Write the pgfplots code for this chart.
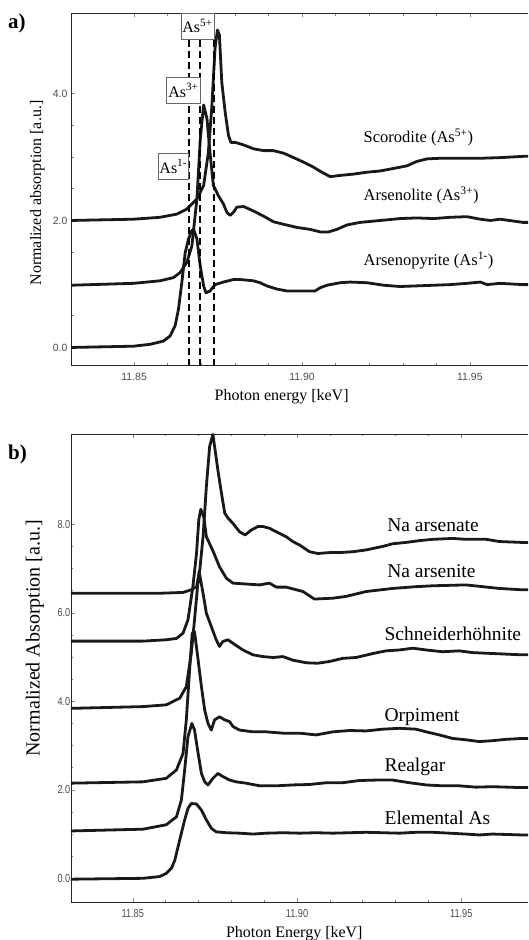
\documentclass[border=0pt]{standalone}
\usepackage{fontspec}
\setmainfont{Liberation Serif}
\newfontfamily\ticksans{Liberation Sans}
\newfontfamily\ticknarrow[FakeStretch=0.8]{Liberation Sans}
\usepackage{pgfplots}
\pgfplotsset{compat=1.18}
\begin{document}
\begin{tikzpicture}
\useasboundingbox (0pt,0pt) rectangle (528pt,940pt);
\pgfplotsset{
 curve/.style={black!90, line width=2.8pt, mark=none, line join=round},
 dline/.style={black, line width=1.8pt, mark=none, dash pattern=on 7pt off 4pt},
 common/.style={
  scale only axis,
  xmin=11.8312,
  axis x line*=box, axis y line*=left,
  axis line style={line width=0.9pt, black!85},
  tick align=inside,
  major tick length=4pt, minor tick length=2.5pt,
  tick style={black!50, line width=0.5pt},
  xtick={11.85,11.90,11.95},
  xticklabels={11.85,11.90,11.95},
  minor x tick num=4,
  minor y tick num=3,
  xticklabel style={anchor=center, yshift=-11pt},
  label style={font=\fontsize{16}{18}\selectfont},
 }
}
% ---------------- panel a ----------------
\begin{axis}[common, at={(71pt,574.3pt)}, anchor=south west,
  width=457pt, height=352.4pt, xmax=11.9673, ymin=-0.287, ymax=5.263,
  ytick={0,2,4}, yticklabels={0.0,2.0,4.0},
  tick label style={font=\ticksans\fontsize{10.5}{12}\selectfont, text=black!70},
  xlabel={Photon energy [keV]}, ylabel={Normalized absorption [a.u.]},
  xlabel style={at={(rel axis cs:0.461,-0.088)}, anchor=center},
  ylabel style={at={(rel axis cs:-0.074,0.49)}, anchor=center},
  ]
\addplot[curve] coordinates {(11.8311,0.00) (11.8498,0.02) (11.8548,0.05) (11.8587,0.10) (11.8607,0.18) (11.8622,0.34) (11.8632,0.60) (11.8642,1.02) (11.8652,1.49) (11.8662,1.71) (11.8672,1.84) (11.8677,1.86) (11.8687,1.71) (11.8697,1.28) (11.8707,0.97) (11.8714,0.86) (11.8726,0.89) (11.8741,0.99) (11.8766,1.03) (11.8796,1.07) (11.8816,1.07) (11.8855,1.05) (11.8875,1.02) (11.8895,0.97) (11.8925,0.92) (11.8955,0.89) (11.8994,0.89) (11.9039,0.89) (11.9054,0.94) (11.9074,0.98) (11.9114,1.02) (11.9143,1.03) (11.9193,1.02) (11.9243,0.98) (11.9292,0.96) (11.9342,0.97) (11.9392,0.98) (11.9441,0.99) (11.9491,1.01) (11.9531,1.03) (11.9551,0.99) (11.9590,1.01) (11.9658,0.99) (11.9673,0.99)};
\addplot[curve] coordinates {(11.8311,0.98) (11.8498,1.01) (11.8577,1.05) (11.8617,1.10) (11.8637,1.18) (11.8657,1.34) (11.8672,1.60) (11.8687,2.34) (11.8697,3.28) (11.8707,3.82) (11.8717,3.60) (11.8726,3.07) (11.8736,2.55) (11.8751,2.39) (11.8766,2.26) (11.8776,2.13) (11.8786,2.08) (11.8796,2.13) (11.8806,2.21) (11.8826,2.22) (11.8855,2.15) (11.8885,2.07) (11.8915,1.98) (11.8945,1.94) (11.8985,1.89) (11.9024,1.86) (11.9054,1.82) (11.9079,1.82) (11.9104,1.86) (11.9134,1.93) (11.9173,1.97) (11.9213,1.99) (11.9253,2.01) (11.9292,2.03) (11.9342,2.04) (11.9392,2.03) (11.9441,2.05) (11.9491,2.06) (11.9531,2.02) (11.9561,2.00) (11.9590,2.02) (11.9658,1.97) (11.9673,1.97)};
\addplot[curve] coordinates {(11.8311,2.00) (11.8498,2.02) (11.8577,2.05) (11.8627,2.10) (11.8657,2.18) (11.8687,2.34) (11.8707,2.55) (11.8721,3.07) (11.8731,3.76) (11.8741,4.71) (11.8748,5.00) (11.8754,4.92) (11.8761,4.18) (11.8771,3.71) (11.8781,3.34) (11.8788,3.23) (11.8801,3.23) (11.8826,3.19) (11.8855,3.13) (11.8885,3.10) (11.8915,3.10) (11.8945,3.06) (11.8975,2.99) (11.9004,2.92) (11.9034,2.84) (11.9059,2.76) (11.9084,2.69) (11.9114,2.71) (11.9153,2.73) (11.9193,2.76) (11.9233,2.78) (11.9273,2.82) (11.9312,2.86) (11.9342,2.93) (11.9372,2.97) (11.9412,2.98) (11.9471,2.98) (11.9531,2.98) (11.9590,2.99) (11.9658,3.01) (11.9673,3.01)};
\addplot[dline] coordinates {(11.8663,-0.287) (11.8663,5.263)};
\addplot[dline] coordinates {(11.8697,-0.287) (11.8697,5.263)};
\addplot[dline] coordinates {(11.8739,-0.287) (11.8739,5.263)};
\node[draw=black!60, fill=white, line width=0.6pt, anchor=east, inner sep=1.5pt, minimum height=26pt, font=\fontsize{16}{18}\selectfont] at (axis cs:11.8663,2.85) {As\textsuperscript{1-}};
\node[draw=black!60, fill=white, line width=0.6pt, anchor=east, inner sep=1.5pt, minimum height=26pt, font=\fontsize{16}{18}\selectfont] at (axis cs:11.8697,4.05) {As\textsuperscript{3+}};
\node[draw=black!60, fill=white, line width=0.6pt, anchor=east, inner sep=1.5pt, minimum height=26pt, font=\fontsize{16}{18}\selectfont] at (axis cs:11.8739,5.06) {As\textsuperscript{5+}};
\node[anchor=west, inner sep=0pt, font=\fontsize{16.5}{18}\selectfont] at (axis cs:11.9183,3.31) {Scorodite (As\textsuperscript{5+})};
\node[anchor=west, inner sep=0pt, font=\fontsize{16.5}{18}\selectfont] at (axis cs:11.9183,2.39) {Arsenolite (As\textsuperscript{3+})};
\node[anchor=west, inner sep=0pt, font=\fontsize{16.5}{18}\selectfont] at (axis cs:11.9183,1.37) {Arsenopyrite (As\textsuperscript{1-})};
\end{axis}
\node[anchor=north west, inner sep=0pt, font=\bfseries\fontsize{21}{24}\selectfont] at (8pt,926pt) {a)};
% ---------------- panel b ----------------
\begin{axis}[common, at={(71pt,37.7pt)}, anchor=south west,
  width=457pt, height=468.3pt, xmax=11.9703, ymin=-0.542, ymax=10.04,
  ytick={0,2,4,6,8}, yticklabels={0.0,2.0,4.0,6.0,8.0},
  tick label style={font=\ticknarrow\fontsize{11.5}{13}\selectfont, text=black!70},
  yticklabel style={inner sep=0.5pt},
  xlabel={Photon Energy [keV]}, ylabel={Normalized Absorption [a.u.]},
  xlabel style={at={(rel axis cs:0.4886,-0.0662)}, anchor=center},
  ylabel style={at={(rel axis cs:-0.079,0.564)}, anchor=center, font=\fontsize{20}{22}\selectfont},
  ]
\addplot[curve] coordinates {(11.8311,6.44) (11.8577,6.44) (11.8653,6.46) (11.8678,6.52) (11.8694,6.59) (11.8704,6.97) (11.8714,7.72) (11.8724,8.85) (11.8734,9.76) (11.8744,10.03) (11.8752,9.60) (11.8759,9.23) (11.8770,8.70) (11.8780,8.25) (11.8790,8.14) (11.8805,8.02) (11.8825,7.83) (11.8842,7.76) (11.8861,7.87) (11.8881,7.95) (11.8896,7.95) (11.8916,7.91) (11.8937,7.83) (11.8967,7.72) (11.8987,7.61) (11.9008,7.53) (11.9038,7.38) (11.9063,7.34) (11.9099,7.36) (11.9129,7.36) (11.9170,7.38) (11.9210,7.42) (11.9261,7.50) (11.9291,7.56) (11.9332,7.59) (11.9372,7.63) (11.9413,7.66) (11.9474,7.68) (11.9514,7.66) (11.9575,7.66) (11.9616,7.61) (11.9684,7.59) (11.9703,7.59)};
\addplot[curve] coordinates {(11.8311,5.36) (11.8531,5.36) (11.8602,5.39) (11.8633,5.42) (11.8653,5.54) (11.8668,5.84) (11.8683,6.59) (11.8694,7.34) (11.8701,8.10) (11.8707,8.34) (11.8716,8.17) (11.8724,7.72) (11.8744,7.40) (11.8764,7.04) (11.8785,6.78) (11.8805,6.67) (11.8845,6.65) (11.8886,6.63) (11.8916,6.67) (11.8937,6.58) (11.8967,6.58) (11.9018,6.48) (11.9053,6.31) (11.9109,6.33) (11.9149,6.37) (11.9210,6.48) (11.9291,6.55) (11.9362,6.59) (11.9413,6.61) (11.9514,6.63) (11.9565,6.59) (11.9616,6.55) (11.9684,6.52) (11.9703,6.52)};
\addplot[curve] coordinates {(11.8311,3.84) (11.8531,3.88) (11.8602,3.92) (11.8643,4.07) (11.8663,4.33) (11.8678,5.08) (11.8688,5.84) (11.8699,6.74) (11.8702,6.93) (11.8714,6.44) (11.8724,5.99) (11.8739,5.69) (11.8754,5.39) (11.8764,5.24) (11.8774,5.35) (11.8790,5.39) (11.8805,5.31) (11.8835,5.16) (11.8866,5.05) (11.8896,5.01) (11.8927,4.99) (11.8957,5.01) (11.8987,4.93) (11.9028,4.87) (11.9063,4.86) (11.9099,4.90) (11.9139,4.97) (11.9180,4.99) (11.9231,5.08) (11.9271,5.14) (11.9312,5.16) (11.9352,5.20) (11.9393,5.16) (11.9443,5.12) (11.9494,5.14) (11.9534,5.10) (11.9595,5.08) (11.9684,5.05) (11.9703,5.05)};
\addplot[curve] coordinates {(11.8311,2.15) (11.8531,2.18) (11.8602,2.26) (11.8633,2.45) (11.8653,2.82) (11.8663,3.58) (11.8673,4.71) (11.8681,5.54) (11.8688,5.57) (11.8699,4.93) (11.8709,4.33) (11.8719,3.80) (11.8729,3.50) (11.8739,3.35) (11.8749,3.58) (11.8764,3.65) (11.8780,3.58) (11.8795,3.54) (11.8805,3.43) (11.8825,3.35) (11.8866,3.31) (11.8906,3.31) (11.8957,3.28) (11.9008,3.28) (11.9058,3.24) (11.9109,3.31) (11.9160,3.34) (11.9210,3.33) (11.9261,3.37) (11.9312,3.39) (11.9362,3.37) (11.9393,3.31) (11.9433,3.24) (11.9474,3.16) (11.9514,3.13) (11.9555,3.09) (11.9595,3.11) (11.9636,3.14) (11.9684,3.16) (11.9703,3.16)};
\addplot[curve] coordinates {(11.8311,1.07) (11.8531,1.11) (11.8602,1.21) (11.8633,1.39) (11.8648,1.77) (11.8658,2.45) (11.8668,3.20) (11.8680,3.50) (11.8688,3.35) (11.8699,2.82) (11.8709,2.37) (11.8719,2.18) (11.8729,2.11) (11.8744,2.26) (11.8759,2.37) (11.8774,2.30) (11.8795,2.22) (11.8815,2.18) (11.8845,2.15) (11.8886,2.09) (11.8937,2.09) (11.8987,2.11) (11.9038,2.12) (11.9089,2.16) (11.9139,2.16) (11.9190,2.21) (11.9241,2.22) (11.9291,2.22) (11.9342,2.16) (11.9393,2.11) (11.9443,2.09) (11.9494,2.09) (11.9544,2.06) (11.9595,2.07) (11.9684,2.05) (11.9703,2.05)};
\addplot[curve] coordinates {(11.8311,-0.02) (11.8531,0.00) (11.8582,0.04) (11.8602,0.11) (11.8618,0.23) (11.8628,0.41) (11.8643,0.87) (11.8658,1.32) (11.8668,1.58) (11.8678,1.69) (11.8694,1.68) (11.8709,1.54) (11.8724,1.32) (11.8739,1.13) (11.8754,1.05) (11.8785,1.03) (11.8825,1.02) (11.8866,1.00) (11.8906,1.02) (11.8957,1.03) (11.9008,1.02) (11.9058,1.03) (11.9109,1.02) (11.9160,1.03) (11.9210,1.04) (11.9261,1.03) (11.9312,1.02) (11.9362,1.04) (11.9413,1.04) (11.9464,1.02) (11.9514,1.00) (11.9555,0.98) (11.9595,1.00) (11.9684,0.98) (11.9703,0.98)};
\node[anchor=west, inner sep=0pt, font=\fontsize{19.5}{22}\selectfont] at (axis cs:11.9274,7.98) {Na arsenate};
\node[anchor=west, inner sep=0pt, font=\fontsize{19.5}{22}\selectfont] at (axis cs:11.9274,6.93) {Na arsenite};
\node[anchor=west, inner sep=0pt, font=\fontsize{19.5}{22}\selectfont] at (axis cs:11.9266,5.52) {Schneiderhöhnite};
\node[anchor=west, inner sep=0pt, font=\fontsize{19.5}{22}\selectfont] at (axis cs:11.9266,3.65) {Orpiment};
\node[anchor=west, inner sep=0pt, font=\fontsize{19.5}{22}\selectfont] at (axis cs:11.9266,2.52) {Realgar};
\node[anchor=west, inner sep=0pt, font=\fontsize{19.5}{22}\selectfont] at (axis cs:11.9266,1.36) {Elemental As};
\end{axis}
\node[anchor=north west, inner sep=0pt, font=\bfseries\fontsize{21}{24}\selectfont] at (8pt,495pt) {b)};
\end{tikzpicture}
\end{document}
